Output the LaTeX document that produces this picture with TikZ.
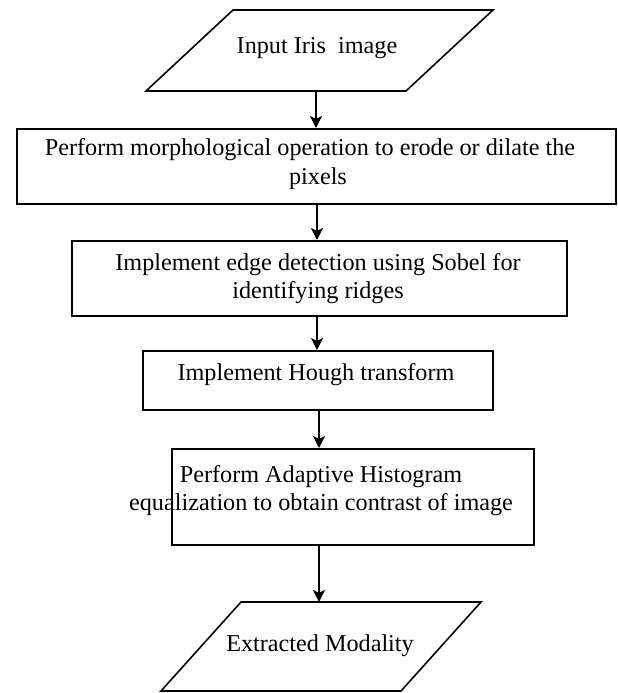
\documentclass[tikz,border=0pt]{standalone}
\usepackage{fontspec}
\setmainfont{Liberation Serif}
\usetikzlibrary{arrows.meta}
\begin{document}
\begin{tikzpicture}[x=1pt,y=-1pt,
  shapeline/.style={draw=black,line width=1.6pt,line join=miter},
  boxnode/.style={shapeline,rectangle,inner sep=0pt,anchor=north west},
  txt/.style={inner sep=0pt,align=center,font=\fontsize{24.2}{28.5}\selectfont},
  arr/.style={draw=black,line width=2pt,-{Stealth[length=12pt,width=12pt,inset=3pt]}}]
\useasboundingbox (0,0) rectangle (618,693);
% input parallelogram
\draw[shapeline] (233,10) -- (493,10) -- (406,91) -- (146,91) -- cycle;
\node[inner sep=0pt,minimum width=347pt,minimum height=81pt,anchor=north west] (p1) at (146,10) {};
\node[txt] (t1) at (317,48) {Input Iris\ \ image};
% boxes
\node[boxnode,minimum width=599pt,minimum height=75pt] (b2) at (16,128) {};
\node[txt] (t2) at (310,164) {Perform morphological operation to erode or dilate the\\\hspace*{16pt}pixels};
\node[boxnode,minimum width=495pt,minimum height=75pt] (b3) at (71,240) {};
\node[txt] (t3) at (318,278.5) {Implement edge detection using Sobel for\\identifying ridges};
\node[boxnode,minimum width=350pt,minimum height=59pt] (b4) at (142,350) {};
\node[txt] (t4) at (316,375) {Implement Hough transform};
\node[boxnode,minimum width=362pt,minimum height=96pt] (b5) at (171,448) {};
\node[txt] (t5) at (321,490.5) {Perform Adaptive Histogram\\equalization to obtain contrast of image};
% output parallelogram
\draw[shapeline] (241,602) -- (481,602) -- (401,691) -- (161,691) -- cycle;
\node[inner sep=0pt,minimum width=320pt,minimum height=89pt,anchor=north west] (p2) at (161,602) {};
\node[txt] (t6) at (320,646) {Extracted Modality};
% arrow axes
\coordinate (x1) at (316,0);
\coordinate (x2) at (317,0);
\coordinate (x3) at (317,0);
\coordinate (x4) at (319,0);
\coordinate (x5) at (319,0);
\draw[arr] (p1.south -| x1) -- (b2.north -| x1);
\draw[arr] (b2.south -| x2) -- (b3.north -| x2);
\draw[arr] (b3.south -| x3) -- (b4.north -| x3);
\draw[arr] (b4.south -| x4) -- (b5.north -| x4);
\draw[arr] (b5.south -| x5) -- (p2.north -| x5);
\end{tikzpicture}
\end{document}
